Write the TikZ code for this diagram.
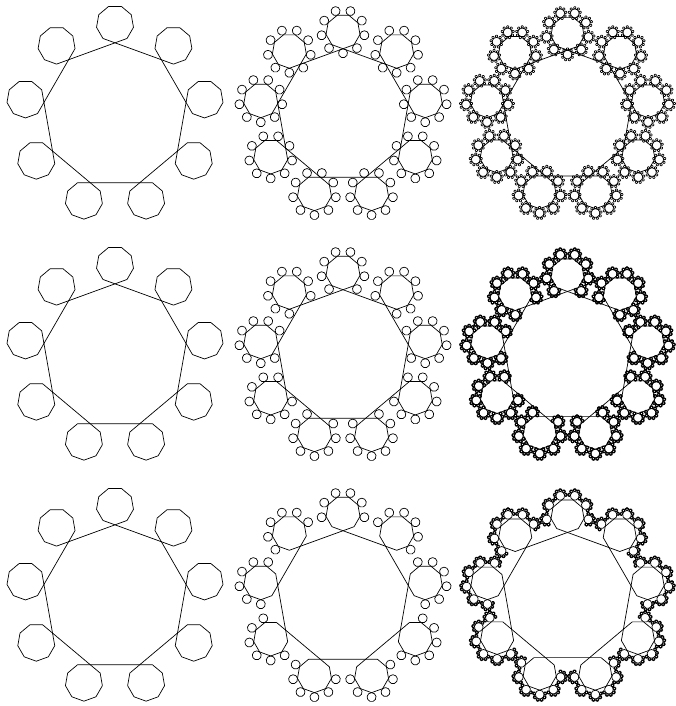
\documentclass[tikz,border=0pt]{standalone}
\newcommand\FPs{0.26}
\newcommand\FPjmin{0}
\newcommand\FPjmax{8}
% #1 cx, #2 cy, #3 radius, #4 orientation, #5 depth left, #6 first child, #7 last child
\newcommand\FPdraw[7]{%
  \begingroup
  \draw[shift={(#1,#2)}] (#4:#3) -- (#4+40:#3) -- (#4+80:#3) -- (#4+120:#3) -- (#4+160:#3)
     -- (#4+200:#3) -- (#4+240:#3) -- (#4+280:#3) -- (#4+320:#3) -- cycle;
  \ifnum#5>0
    \foreach \j in {#6,...,#7}{%
      \pgfmathsetmacro\FPpsi{#4+40*\j}%
      \pgfmathsetmacro\FPdist{#3*(1+\FPs)}%
      \pgfmathsetmacro\FPnx{#1+\FPdist*cos(\FPpsi)}%
      \pgfmathsetmacro\FPny{#2+\FPdist*sin(\FPpsi)}%
      \pgfmathsetmacro\FPnr{#3*\FPs}%
      \pgfmathsetmacro\FPnth{mod(\FPpsi+180,360)}%
      \pgfmathtruncatemacro\FPnd{#5-1}%
      \edef\FPnext{\noexpand\FPdraw{\FPnx}{\FPny}{\FPnr}{\FPnth}{\FPnd}{\FPjmin}{\FPjmax}}%
      \FPnext
    }%
  \fi
  \endgroup}
\begin{document}
\begin{tikzpicture}[x=1pt,y=1pt,line width=0.7pt,line join=round]
\useasboundingbox (0,0) rectangle (675,706);
\fill[white] (0,0) rectangle (675,706);
\pgfmathsetmacro\RA{108/(cos(10)*(1+2*\FPs))}
\pgfmathsetmacro\RB{108/(cos(10)*(1+2*\FPs+2*\FPs^2))}
\pgfmathsetmacro\RC{108/(cos(10)*(1+2*\FPs+2*\FPs^2+2*\FPs^3))}
\pgfmathsetmacro\RD{108/(cos(10)*(1+2*\FPs+2*\FPs^2+2*\FPs^3+2*\FPs^4))}
% row 1: all nine children
\renewcommand\FPjmin{0}\renewcommand\FPjmax{8}
\FPdraw{115}{591}{\RA}{90}{1}{0}{8}
\FPdraw{343}{591}{\RB}{90}{2}{0}{8}
\FPdraw{567.5}{591}{\RC}{90}{3}{0}{8}
% row 2: eight children
\renewcommand\FPjmin{1}\renewcommand\FPjmax{8}
\FPdraw{115}{350}{\RA}{90}{1}{0}{8}
\FPdraw{343}{350}{\RB}{90}{2}{0}{8}
\FPdraw{567.5}{350}{\RD}{90}{4}{0}{8}
% row 3: six children
\renewcommand\FPjmin{2}\renewcommand\FPjmax{7}
\FPdraw{115}{109}{\RA}{90}{1}{0}{8}
\FPdraw{343}{109}{\RB}{90}{2}{0}{8}
\FPdraw{567.5}{109}{\RD}{90}{4}{0}{8}
\end{tikzpicture}
\end{document}
